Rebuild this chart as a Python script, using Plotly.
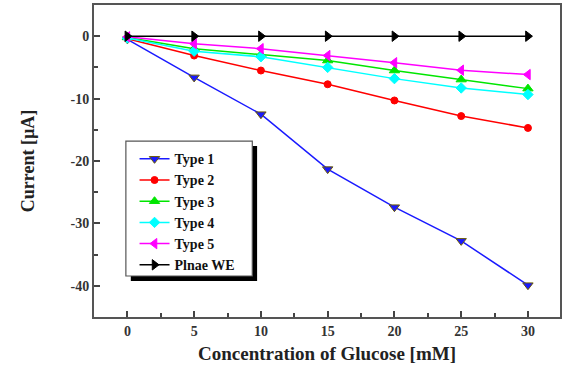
import plotly.graph_objects as go

conc = [0, 5, 10, 15, 20, 25, 30]
type1 = [-0.5, -6.6, -12.5, -21.3, -27.4, -32.8, -39.9]
type2 = [-0.4, -3.1, -5.5, -7.7, -10.3, -12.8, -14.7]
type3 = [-0.2, -2.0, -2.95, -3.9, -5.5, -6.95, -8.4]
type4 = [-0.3, -2.4, -3.3, -5.0, -6.8, -8.3, -9.35]
type5 = [-0.1, -1.2, -2.0, -3.1, -4.25, -5.45, -6.15]
plane = [0, 0, 0, 0, 0, 0, 0]

xticks = [0, 5, 10, 15, 20, 25, 30]
xticklabels = ["0", "5", "10", "15", "20", "25", "30"]
yticks = [0, -10, -20, -30, -40]
yticklabels = ["0", "-10", "-20", "-30", "-40"]

names = ["Type 1", "Type 2", "Type 3", "Type 4", "Type 5", "Plnae WE"]
series = [type1, type2, type3, type4, type5, plane]
colors = ["#1a1aff", "#ff0000", "#00e600", "#00ffff", "#ff00ff", "#000000"]
symbols = ["triangle-down", "circle", "triangle-up", "diamond", "triangle-left", "triangle-right"]
sizes = [9, 7, 9, 8, 9, 9]
edge = ["#6b5a00", "#ff0000", "#00e600", "#00ffff", "#ff00ff", "#000000"]

FONT = "Liberation Serif"

fig = go.Figure()
for n, s, c, sym, sz, e in zip(names, series, colors, symbols, sizes, edge):
    fig.add_trace(go.Scatter(
        x=conc, y=s, name=n, mode="lines+markers",
        line=dict(color=c, width=1.5),
        marker=dict(symbol=sym, size=sz, color=c, line=dict(color=e, width=1)),
    ))

# legend box + shadow
fig.add_shape(type="rect", xref="paper", yref="paper",
              x0=0.079, x1=0.350, y0=0.115, y1=0.548,
              fillcolor="black", line=dict(width=0), layer="above")
fig.add_shape(type="rect", xref="paper", yref="paper",
              x0=0.0684, x1=0.3397, y0=0.1314, y1=0.564,
              fillcolor="white", line=dict(color="#555555", width=1.2), layer="above")

axis_common = dict(
    showline=True, linecolor="#555555", linewidth=2, mirror=True,
    ticks="inside", ticklen=6, tickwidth=1.5, tickcolor="#444444",
    showgrid=False, zeroline=False,
    tickfont=dict(family=FONT, size=14, color="#333333", weight="bold"),
)

fig.update_layout(
    width=564, height=367,
    margin=dict(l=94, r=2, t=5, b=50),
    paper_bgcolor="white", plot_bgcolor="white",
    font=dict(family=FONT, color="#222222"),
    xaxis=dict(range=[-2.5, 32.4], tickmode="array", tickvals=xticks, ticktext=xticklabels,
               minor=dict(ticks="inside", ticklen=4, dtick=2.5, tick0=0, tickcolor="#444444"),
               title=dict(text="Concentration of Glucose [mM]", standoff=9,
                          font=dict(family=FONT, size=19, color="#222222", weight="bold")),
               **axis_common),
    yaxis=dict(range=[-45, 5], tickmode="array", tickvals=yticks, ticktext=yticklabels,
               minor=dict(ticks="inside", ticklen=4, dtick=5, tick0=0, tickcolor="#444444"),
               title=dict(text="Current [µA]", standoff=31,
                          font=dict(family=FONT, size=18, color="#222222", weight="bold")),
               **axis_common),
    legend=dict(x=0.087, y=0.557, xanchor="left", yanchor="top",
                bgcolor="rgba(0,0,0,0)", borderwidth=0,
                font=dict(family=FONT, size=14, color="#111111", weight="bold"),
                tracegroupgap=0, itemwidth=30),
    showlegend=True,
)

fig.write_html("out.html")
